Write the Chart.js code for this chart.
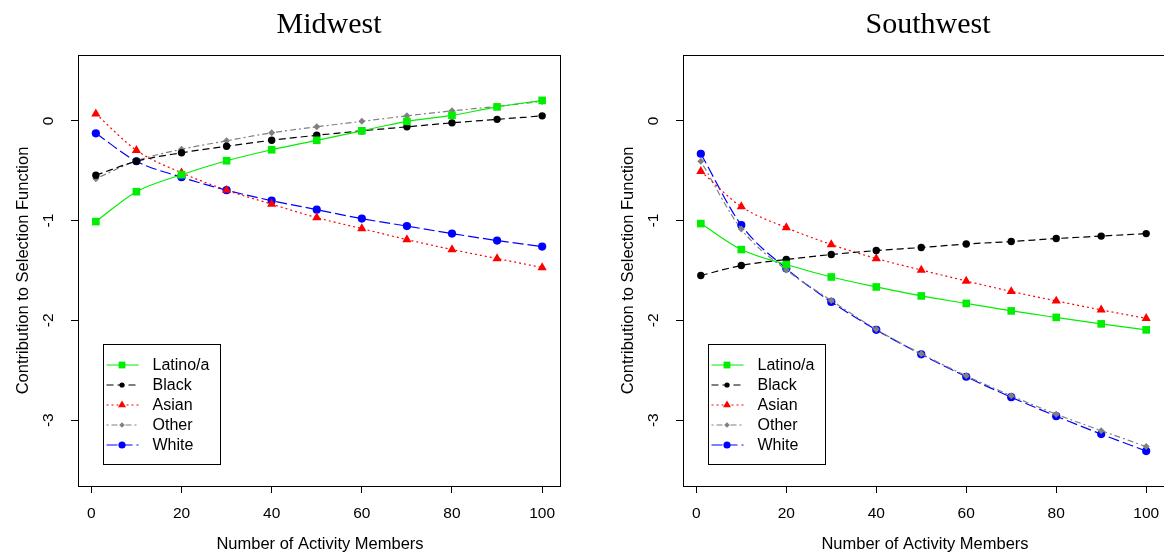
<!DOCTYPE html>
<html>
<head>
<meta charset="utf-8">
<script src="https://cdn.jsdelivr.net/npm/chart.js@4"></script>
<style>
  html, body { margin: 0; padding: 0; background: #fff; }
  #wrap { position: relative; width: 1164px; height: 555px; overflow: hidden; }
  .panel { position: absolute; top: 0; height: 555px; }
</style>
</head>
<body>
<div id="wrap">
  <div class="panel" style="left:0;width:582px"><canvas id="midwest" width="582" height="555"></canvas></div>
  <div class="panel" style="left:582px;width:600px"><canvas id="southwest" width="600" height="555"></canvas></div>
</div>
<script>
// values, markers at these member counts
const members = [1, 10, 20, 30, 40, 50, 60, 70, 80, 90, 100];
const xTicks = [0, 20, 40, 60, 80, 100];
const yTicks = [0, -1, -2, -3];
const groups = ['Latino/a', 'Black', 'Asian', 'Other', 'White'];

const midwestLatino = [-1.01, -0.71, -0.54, -0.40, -0.29, -0.195, -0.10, -0.005, 0.055, 0.14, 0.205];
const midwestBlack  = [-0.545, -0.405, -0.32, -0.255, -0.195, -0.145, -0.10, -0.06, -0.02, 0.015, 0.05];
const midwestAsian  = [0.07, -0.295, -0.52, -0.695, -0.835, -0.97, -1.08, -1.19, -1.29, -1.38, -1.47];
const midwestOther  = [-0.58, -0.40, -0.285, -0.20, -0.12, -0.06, -0.005, 0.05, 0.10, 0.145, 0.195];
const midwestWhite  = [-0.125, -0.405, -0.565, -0.695, -0.80, -0.89, -0.98, -1.055, -1.13, -1.20, -1.26];

const southwestLatino = [-1.03, -1.29, -1.44, -1.565, -1.665, -1.755, -1.83, -1.905, -1.97, -2.035, -2.095];
const southwestBlack  = [-1.55, -1.45, -1.39, -1.34, -1.30, -1.27, -1.235, -1.21, -1.18, -1.155, -1.13];
const southwestAsian  = [-0.505, -0.86, -1.07, -1.24, -1.38, -1.495, -1.605, -1.71, -1.805, -1.895, -1.98];
const southwestOther  = [-0.405, -1.085, -1.495, -1.80, -2.09, -2.335, -2.555, -2.755, -2.94, -3.105, -3.265];
const southwestWhite  = [-0.33, -1.045, -1.48, -1.815, -2.095, -2.34, -2.565, -2.77, -2.96, -3.14, -3.31];

// look of each series (same order as groups)
const looks = [
  { color: '#00ee00', style: 'rect',     radius: 5.4, legendR: 4.8, dash: [] },
  { color: '#000000', style: 'circle',   radius: 3.7, legendR: 2.6, dash: [7, 4] },
  { color: '#ff0000', style: 'triangle', radius: 5.3, legendR: 4.6, dash: [2, 3] },
  { color: '#808080', style: 'rectRot',  radius: 3.5, legendR: 2.8, dash: [2, 3, 6, 3] },
  { color: '#0000ff', style: 'circle',   radius: 4.1, legendR: 3.6, dash: [11, 4] }
];

const SANS = '"Liberation Sans", Arial, sans-serif';
const SERIF = '"Liberation Serif", "Times New Roman", serif';

// R-ish decorations: box, rotated y labels, titles, legend
const rDecor = {
  id: 'rDecor',
  afterDraw(chart, args, opts) {
    const ctx = chart.ctx;
    const a = chart.chartArea;
    const ys = chart.scales.y;
    ctx.save();
    ctx.strokeStyle = '#000';
    ctx.lineWidth = 1;
    ctx.strokeRect(Math.round(a.left) + 0.5, Math.round(a.top) + 0.5,
                   Math.round(a.right - a.left), Math.round(a.bottom - a.top));

    ctx.fillStyle = '#000';
    ctx.font = '15.5px ' + SANS;
    ctx.textAlign = 'center';
    ctx.textBaseline = 'middle';
    yTicks.forEach(v => {
      const py = ys.getPixelForValue(v);
      ctx.save();
      ctx.translate(a.left - 29, py);
      ctx.rotate(-Math.PI / 2);
      ctx.fillText(String(v), 0, 0);
      ctx.restore();
    });

    // axis titles
    ctx.font = '16.5px ' + SANS;
    ctx.save();
    ctx.translate(a.left - 55, (a.top + a.bottom) / 2);
    ctx.rotate(-Math.PI / 2);
    ctx.fillText('Contribution to Selection Function', 0, 0);
    ctx.restore();
    ctx.fillText('Number of Activity Members', opts.centerX, 544);

    // main title
    ctx.font = '30px ' + SERIF;
    ctx.fillText(opts.title, opts.titleX, 25);

    // legend
    const lx = a.left + 24.5, ly = 344.5, lw = 117, lh = 120;
    ctx.lineWidth = 1;
    ctx.strokeStyle = '#000';
    ctx.strokeRect(Math.round(lx) + 0.5, ly, lw, lh);
    ctx.font = '16px ' + SANS;
    ctx.textAlign = 'left';
    groups.forEach((g, i) => {
      const lk = looks[i];
      const y = 365 + i * 20;
      ctx.save();
      ctx.strokeStyle = lk.color;
      ctx.lineWidth = 1.2;
      ctx.setLineDash(lk.dash);
      ctx.beginPath();
      ctx.moveTo(lx + 4, y);
      ctx.lineTo(lx + 36, y);
      ctx.stroke();
      ctx.restore();
      ctx.fillStyle = lk.color;
      Chart.helpers.drawPoint(ctx, {
        pointStyle: lk.style, radius: lk.legendR, rotation: 0, borderWidth: 0
      }, lx + 19.5, y);
      ctx.fillStyle = '#000';
      ctx.fillText(g, lx + 50, y + 1);
    });
    ctx.restore();
  }
};

function makeChart(id, series, title, titleX, centerX, leftWidth, rightPad) {
  const datasets = series.map((vals, i) => ({
    label: groups[i],
    data: members.map((m, j) => ({ x: m, y: vals[j] })),
    borderColor: looks[i].color,
    backgroundColor: looks[i].color,
    pointBackgroundColor: looks[i].color,
    pointBorderWidth: 0,
    pointStyle: looks[i].style,
    pointRadius: looks[i].radius,
    borderWidth: 1.2,
    borderDash: looks[i].dash,
    cubicInterpolationMode: 'monotone',
    fill: false
  }));

  return new Chart(document.getElementById(id), {
    type: 'line',
    data: { datasets: datasets },
    options: {
      responsive: false,
      animation: false,
      devicePixelRatio: 1,
      layout: { padding: { top: 55, right: rightPad, left: 0, bottom: 0 } },
      plugins: {
        legend: { display: false },
        tooltip: { enabled: false },
        rDecor: { title: title, titleX: titleX, centerX: centerX }
      },
      scales: {
        x: {
          type: 'linear',
          min: -2.96,
          max: 103.96,
          afterBuildTicks: s => { s.ticks = xTicks.map(v => ({ value: v })); },
          afterFit: s => { s.height = 69; s.paddingLeft = 0; s.paddingRight = 0; },
          grid: { display: true, drawOnChartArea: false, drawTicks: true, tickLength: 7, color: '#000' },
          border: { display: true, color: '#000' },
          ticks: { color: '#000', font: { family: SANS, size: 15.5 }, padding: 11, maxRotation: 0, autoSkip: false }
        },
        y: {
          type: 'linear',
          min: -3.66,
          max: 0.66,
          afterBuildTicks: s => { s.ticks = yTicks.map(v => ({ value: v })); },
          afterFit: s => { s.width = leftWidth; s.paddingTop = 0; s.paddingBottom = 0; },
          grid: { display: true, drawOnChartArea: false, drawTicks: true, tickLength: 7, color: '#000' },
          border: { display: true, color: '#000' },
          ticks: { display: false }
        }
      }
    },
    plugins: [rDecor]
  });
}

makeChart('midwest',
  [midwestLatino, midwestBlack, midwestAsian, midwestOther, midwestWhite],
  'Midwest', 329, 320, 78, 22);
makeChart('southwest',
  [southwestLatino, southwestBlack, southwestAsian, southwestOther, southwestWhite],
  'Southwest', 346, 343, 101, 18);
</script>
</body>
</html>
